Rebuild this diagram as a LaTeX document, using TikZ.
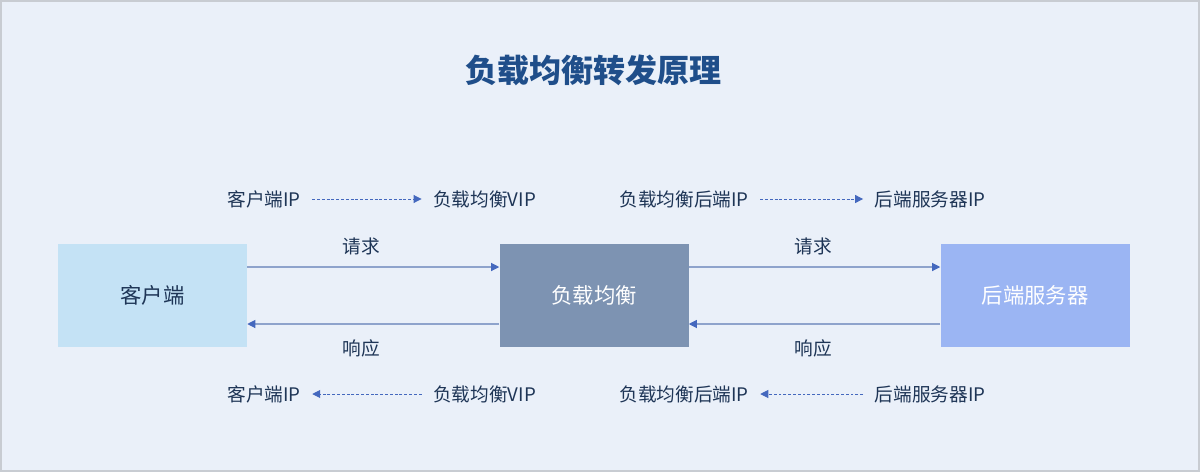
\documentclass[tikz,border=0pt]{standalone}
\usepackage{fontspec}
\setmainfont{Noto Sans CJK SC}
\usetikzlibrary{arrows.meta,calc}
\definecolor{bgc}{HTML}{EAF0F9}
\definecolor{framec}{HTML}{C8CCD2}
\definecolor{titlec}{HTML}{1F4E8A}
\definecolor{txtc}{HTML}{1E3556}
\definecolor{linec}{HTML}{8EA3CC}
\definecolor{tipc}{HTML}{4468BE}
\definecolor{boxa}{HTML}{C4E2F5}
\definecolor{boxb}{HTML}{7D93B2}
\definecolor{boxc}{HTML}{9BB5F3}
\tikzset{
  pbox/.style={minimum width=141.75pt,minimum height=77.25pt,inner sep=0pt,font=\fontsize{16}{18}\selectfont},
  lbl/.style={text=txtc,inner sep=1pt,font=\fontsize{14}{16}\selectfont},
  solidarrow/.style={draw=linec,line width=0.8pt,-{Triangle[length=6pt,width=6pt,fill=tipc,color=tipc]}},
  dasharrow/.style={draw=tipc,line width=0.7pt,dash pattern=on 2.2pt off 1.4pt,-{Triangle[length=6pt,width=6pt,fill=tipc,color=tipc]}},
}
\begin{document}
\begin{tikzpicture}[x=0.75pt,y=-0.75pt]
\useasboundingbox (0,0) rectangle (1200,472);
\fill[bgc] (0,0) rectangle (1200,472);
\draw[framec,line width=1.5pt] (1,1) rectangle (1199,471);
\node[text=titlec,font=\fontsize{24}{28}\selectfont\bfseries] (title) at (593,70) {负载均衡转发原理};
% boxes
\node[pbox,fill=boxa,text=txtc] (c) at (152.5,295.5) {客户端};
\node[pbox,fill=boxb,text=white] (lb) at (594,295.5) {负载均衡};
\node[pbox,fill=boxc,text=white] (srv) at (1035,295.5) {后端服务器};
% solid arrows
\draw[solidarrow] ($(c.east)+(0,-28.5)$) -- ($(lb.west)+(0,-28.5)$);
\draw[solidarrow] ($(lb.west)+(0,28.5)$) -- ($(c.east)+(0,28.5)$);
\draw[solidarrow] ($(lb.east)+(0,-28.5)$) -- ($(srv.west)+(0,-28.5)$);
\draw[solidarrow] ($(srv.west)+(0,28.5)$) -- ($(lb.east)+(0,28.5)$);
\node[lbl] (q1) at (361,246) {请求};
\node[lbl] (r1) at (361,348) {响应};
\node[lbl] (q2) at (813,246) {请求};
\node[lbl] (r2) at (813,348) {响应};
% IP labels top
\node[lbl] (t1) at (264,199) {客户端IP};
\node[lbl] (t2) at (484.5,199) {负载均衡VIP};
\node[lbl] (t3) at (684,199) {负载均衡后端IP};
\node[lbl] (t4) at (930,199) {后端服务器IP};
\draw[dasharrow] ($(t1.east)+(10,0)$) -- ($(t2.west)+(-10,0)$);
\draw[dasharrow] ($(t3.east)+(10,0)$) -- ($(t4.west)+(-10,0)$);
% IP labels bottom
\node[lbl] (b1) at (264,394) {客户端IP};
\node[lbl] (b2) at (484.5,394) {负载均衡VIP};
\node[lbl] (b3) at (684,394) {负载均衡后端IP};
\node[lbl] (b4) at (930,394) {后端服务器IP};
\draw[dasharrow] ($(b2.west)+(-10,0)$) -- ($(b1.east)+(10,0)$);
\draw[dasharrow] ($(b4.west)+(-10,0)$) -- ($(b3.east)+(10,0)$);
\end{tikzpicture}
\end{document}
